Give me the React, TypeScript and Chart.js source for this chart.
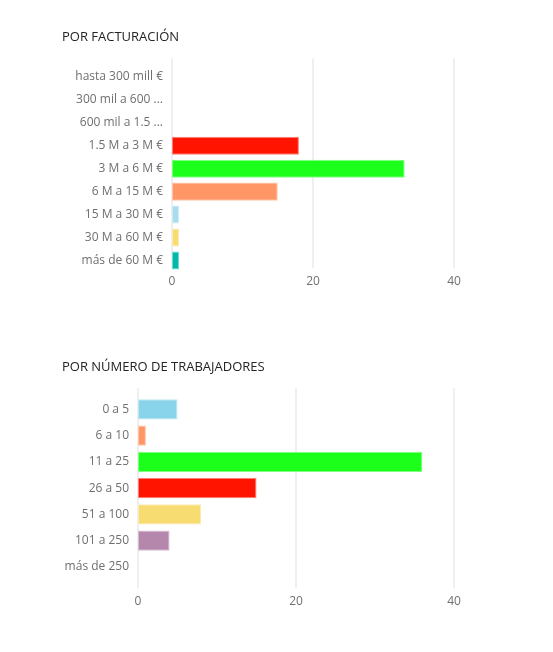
import React, { useEffect, useRef } from "react";
import { Chart, registerables } from "chart.js";

Chart.register(...registerables);

const revenueTitle = "POR FACTURACIÓN";
const revenueLabels = [
  "hasta 300 mill €",
  "300 mil a 600 ...",
  "600 mil a 1.5 ...",
  "1.5 M a 3 M €",
  "3 M a 6 M €",
  "6 M a 15 M €",
  "15 M a 30 M €",
  "30 M a 60 M €",
  "más de 60 M €",
];
const revenueValues = [0, 0, 0, 18, 33, 15, 1, 1, 1];
const revenueColors = [
  "#8AD4EB",
  "#FE9666",
  "#B687AC",
  "#FF1400",
  "#1BFF1B",
  "#FE9666",
  "#A8DCEF",
  "#F7DC72",
  "#01B8AA",
];

const workersTitle = "POR NÚMERO DE TRABAJADORES";
const workerLabels = ["0 a 5", "6 a 10", "11 a 25", "26 a 50", "51 a 100", "101 a 250", "más de 250"];
const workerValues = [5, 1, 36, 15, 8, 4, 0];
const workerColors = ["#8AD4EB", "#FE9666", "#1BFF1B", "#FF1400", "#F7DC72", "#B687AC", "#01B8AA"];

const xTicks = [0, 20, 40];
const FONT = "'Open Sans', 'Noto Sans', sans-serif";

function lighten(hex: string, t: number) {
  const n = parseInt(hex.slice(1), 16);
  const r = (n >> 16) & 255, g = (n >> 8) & 255, b = n & 255;
  const m = (c: number) => Math.round(c + (255 - c) * t);
  return `rgb(${m(r)},${m(g)},${m(b)})`;
}

type Props = {
  title: string;
  labels: string[];
  values: number[];
  colors: string[];
  height: number;
  top: number;
  axisWidth: number;
  axisHeight: number;
  barPct: number;
  titleBottom: number;
  bottomPad: number;
  tickPad: number;
  gridUp: number;
  gridDown: number;
};

function BarChart(p: Props) {
  const ref = useRef<HTMLCanvasElement | null>(null);
  useEffect(() => {
    if (!ref.current) return;
    const gridPlugin = {
      id: "offsetGrid",
      beforeDatasetsDraw(chart: any) {
        const { ctx, chartArea, scales } = chart;
        const xs = scales.x;
        ctx.save();
        ctx.strokeStyle = "#efefef";
        ctx.lineWidth = 2;
        for (const t of xs.ticks) {
          const x = Math.round(xs.getPixelForValue(t.value));
          ctx.beginPath();
          ctx.moveTo(x, chartArea.top - p.gridUp);
          ctx.lineTo(x, chartArea.bottom + p.gridDown);
          ctx.stroke();
        }
        ctx.restore();
      },
    };
    const chart = new Chart(ref.current, {
      type: "bar",
      data: {
        labels: p.labels,
        datasets: [
          {
            data: p.values,
            backgroundColor: p.colors,
            borderColor: p.colors.map((c) => lighten(c, 0.45)),
            borderWidth: 1,
            borderSkipped: false,
            categoryPercentage: 1,
            barPercentage: p.barPct,
          },
        ],
      },
      options: {
        indexAxis: "y",
        responsive: false,
        animation: false,
        devicePixelRatio: 1,
        layout: { padding: { left: 62, right: 99, top: 0, bottom: p.bottomPad } },
        plugins: {
          legend: { display: false },
          tooltip: { enabled: false },
          title: {
            display: true,
            text: p.title,
            align: "start",
            color: "#252423",
            font: { family: FONT, size: 13, weight: "normal" },
            padding: { top: 29, bottom: p.titleBottom },
          },
        },
        scales: {
          x: {
            min: 0,
            max: 40,
            afterBuildTicks: (s: any) => {
              s.ticks = xTicks.map((v) => ({ value: v }));
            },
            afterFit: (s: any) => {
              s.height = p.axisHeight;
            },
            ticks: { color: "#6f6f6f", font: { family: FONT, size: 12 }, padding: p.tickPad },
            grid: { display: false, drawTicks: false },
            border: { display: false },
          },
          y: {
            afterFit: (s: any) => {
              s.width = p.axisWidth;
            },
            ticks: { color: "#6f6f6f", font: { family: FONT, size: 12 }, padding: 9, autoSkip: false },
            grid: { display: false, drawTicks: false },
            border: { display: false },
          },
        },
      },
      plugins: [gridPlugin],
    } as any);
    return () => chart.destroy();
  }, []);
  return (
    <canvas
      ref={ref}
      width={553}
      height={p.height}
      style={{ position: "absolute", left: 0, top: p.top, width: 553, height: p.height, display: "block" }}
    />
  );
}

export default function App() {
  return (
    <div style={{ position: "absolute", left: 0, top: 0, width: 553, height: 652, background: "#fff" }}>
      <BarChart
        title={revenueTitle}
        labels={revenueLabels}
        values={revenueValues}
        colors={revenueColors}
        height={300}
        top={0}
        axisWidth={110}
        axisHeight={28}
        barPct={0.785}
        titleBottom={20.7}
        bottomPad={0}
        tickPad={2}
        gridUp={7}
        gridDown={-3.7}
      />
      <BarChart
        title={workersTitle}
        labels={workerLabels}
        values={workerValues}
        colors={workerColors}
        height={290}
        top={330}
        axisWidth={76}
        axisHeight={40.1}
        barPct={0.77}
        titleBottom={21.7}
        bottomPad={0}
        tickPad={14}
        gridUp={8}
        gridDown={8.4}
      />
    </div>
  );
}
